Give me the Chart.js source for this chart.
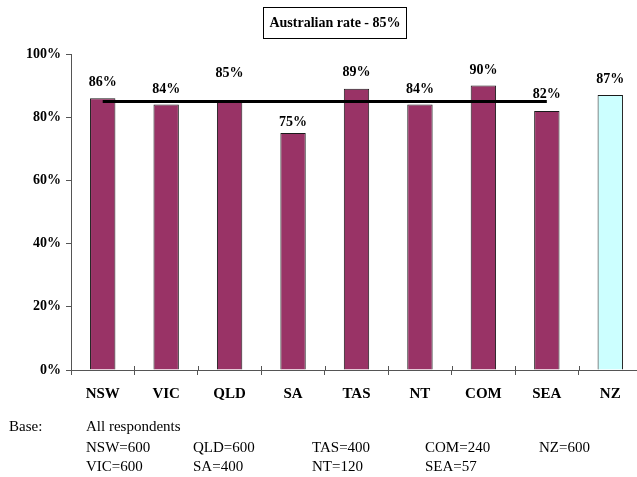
<!DOCTYPE html>
<html>
<head>
<meta charset="utf-8">
<script src="https://cdn.jsdelivr.net/npm/chart.js@4.4.0/dist/chart.umd.min.js"></script>
<style>
    html, body { margin: 0; padding: 0; background: #fff; overflow: hidden; }
    #wrap { position: relative; width: 637px; height: 477px; overflow: hidden; }
    #chart { position: absolute; left: 0; top: 0; }
    .serif { font-family: "Liberation Serif", "DejaVu Serif", serif; color: #000; }
    #rateBox {
        position: absolute; left: 263px; top: 7px; width: 142px; height: 30px;
        border: 1px solid #000; font-weight: bold; font-size: 14px;
        line-height: 30px; text-align: center; white-space: nowrap;
    }
    .base { position: absolute; font-size: 15px; line-height: 17px; white-space: nowrap; }
</style>
</head>
<body>
<div id="wrap">
    <canvas id="chart" width="645" height="477"></canvas>
    <div id="rateBox" class="serif">Australian rate - 85%</div>
    <div id="baseNote"></div>
</div>
<script>
// Données
const regions = ['NSW', 'VIC', 'QLD', 'SA', 'TAS', 'NT', 'COM', 'SEA', 'NZ'];
const rates = [86, 84, 85, 75, 89, 84, 90, 82, 87];
const australianRate = [85, 85, 85, 85, 85, 85, 85, 85, null];
const yTicks = [0, 20, 40, 60, 80, 100];
const baseTitle = ['Base:', 'All respondents'];
const baseRow1 = ['NSW=600', 'QLD=600', 'TAS=400', 'COM=240', 'NZ=600'];
const baseRow2 = ['VIC=600', 'SA=400', 'NT=120', 'SEA=57'];

const SERIF = '"Liberation Serif", "DejaVu Serif", serif';
const MAROON = '#993366';
const CYAN = '#CCFFFF';

// Étiquettes de valeur au-dessus des barres
const valueLabels = {
    id: 'valueLabels',
    afterDatasetsDraw(chart, args, opts) {
        const ctx = chart.ctx;
        const meta = chart.getDatasetMeta(0);
        ctx.save();
        ctx.font = 'bold 14px ' + SERIF;
        ctx.fillStyle = '#000';
        ctx.textAlign = 'center';
        ctx.textBaseline = 'middle';
        meta.data.forEach((bar, i) => {
            const lift = opts.lift[i] != null ? opts.lift[i] : 15;
            ctx.fillText(rates[i] + '%', bar.x, bar.y - lift);
        });
        ctx.restore();
    }
};

// Petits traits de l'axe X qui traversent la ligne d'axe
const crossTicks = {
    id: 'crossTicks',
    afterDraw(chart) {
        const x = chart.scales.x;
        const ctx = chart.ctx;
        const yAxis = chart.chartArea.bottom;
        ctx.save();
        ctx.strokeStyle = '#555';
        ctx.lineWidth = 1;
        for (let i = 1; i < regions.length; i++) {
            const px = Math.round((x.getPixelForValue(i - 1) + x.getPixelForValue(i)) / 2) + 0.5;
            ctx.beginPath();
            ctx.moveTo(px, yAxis - 4);
            ctx.lineTo(px, yAxis);
            ctx.stroke();
        }
        ctx.restore();
    }
};

function buildBaseNote() {
    const holder = document.getElementById('baseNote');
    const cols = [86, 193, 312, 425, 539];
    const add = (txt, x, y) => {
        const d = document.createElement('div');
        d.className = 'base serif';
        d.style.left = x + 'px';
        d.style.top = y + 'px';
        d.textContent = txt;
        holder.appendChild(d);
    };
    add(baseTitle[0], 9, 418);
    add(baseTitle[1], 86, 418);
    baseRow1.forEach((t, i) => add(t, cols[i], 439));
    baseRow2.forEach((t, i) => add(t, cols[i], 458));
}

function initChart() {
    const ctx = document.getElementById('chart').getContext('2d');
    new Chart(ctx, {
        type: 'bar',
        data: {
            labels: regions,
            datasets: [{
                label: 'Rate',
                data: rates,
                backgroundColor: regions.map(r => r === 'NZ' ? CYAN : MAROON),
                borderColor: '#1a1a1a',
                borderWidth: 1,
                barPercentage: 0.4,
                categoryPercentage: 1,
                order: 2
            }, {
                type: 'line',
                label: 'Australian rate',
                data: australianRate,
                borderColor: '#000',
                borderWidth: 3,
                pointRadius: 0,
                fill: false,
                order: 1
            }]
        },
        options: {
            responsive: false,
            animation: false,
            layout: { padding: { top: 54, right: 3, left: 0, bottom: 0 } },
            plugins: {
                legend: { display: false },
                title: { display: false },
                tooltip: { enabled: false },
                valueLabels: { lift: [16, 15, 28, 11, 16, 15, 15, 16, 16] }
            },
            scales: {
                x: {
                    offset: true,
                    grid: {
                        offset: true,
                        drawOnChartArea: false,
                        drawTicks: true,
                        tickLength: 5,
                        color: '#555'
                    },
                    border: { display: true, color: '#555', width: 1 },
                    ticks: {
                        color: '#000',
                        font: { family: SERIF, size: 15, weight: 'bold' },
                        padding: 10,
                        maxRotation: 0
                    },
                    afterFit(scale) { scale.height = 107; }
                },
                y: {
                    min: 0,
                    max: 100,
                    afterBuildTicks(scale) { scale.ticks = yTicks.map(v => ({ value: v })); },
                    grid: {
                        drawOnChartArea: false,
                        drawTicks: true,
                        tickLength: 5,
                        color: '#555'
                    },
                    border: { display: true, color: '#555', width: 1 },
                    ticks: {
                        color: '#000',
                        font: { family: SERIF, size: 14, weight: 'bold' },
                        padding: 5,
                        callback: v => v + '%'
                    },
                    afterFit(scale) { scale.width = 71; }
                }
            }
        },
        plugins: [valueLabels, crossTicks]
    });
}

buildBaseNote();
initChart();
</script>
</body>
</html>
